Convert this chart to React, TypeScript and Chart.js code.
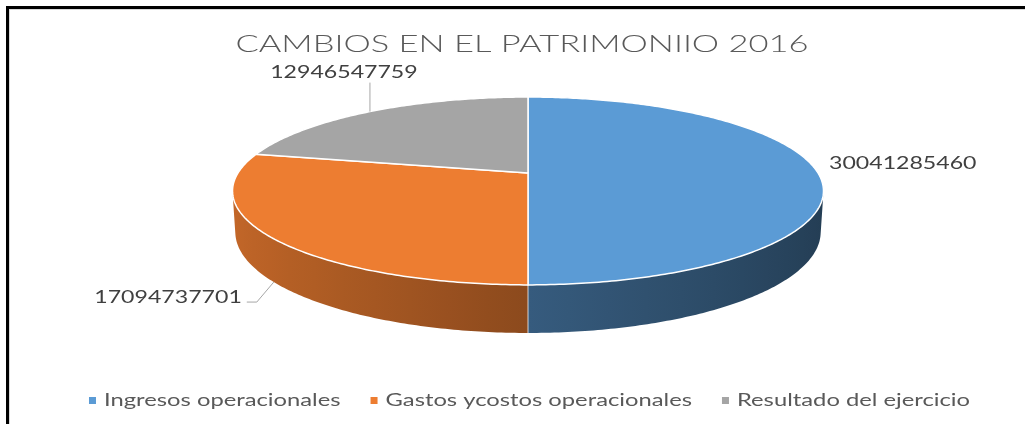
import React, { useEffect, useRef } from "react";
import { Chart, registerables } from "chart.js";

Chart.register(...registerables);

const TITLE = "CAMBIOS EN EL PATRIMONIIO 2016";
const CATEGORIES = ["Ingresos operacionales", "Gastos ycostos operacionales", "Resultado del ejercicio"];
const VALUES = [30041285460, 17094737701, 12946547759];
const COLORS = ["#5B9BD5", "#ED7D31", "#A5A5A5"];

// 3D view parameters (elevation, camera distance, thickness in radius units)
const SIN_E = 0.312;
const COS_E = Math.sqrt(1 - SIN_E * SIN_E);
const DIST = 4.96;
const THICK = 0.1464;

// label styling relative to each slice anchor
const LABEL_LAYOUT = [
  { dx: 11, dy: -3.5, align: "left", leader: [] as number[][] },
  { dx: -32, dy: 21, align: "right", leader: [[-17, 20], [-27, 20]] },
  { dx: -26, dy: -34, align: "center", leader: [[0, -29]] },
];

const FONT = "Lato, 'Open Sans', sans-serif";
const TITLE_SX = 1.5;
const LABEL_SX = 1.36;
const LEGEND_SX = 1.32;

function shade(hex: string, f: number) {
  const h = hex.replace("#", "");
  const r = parseInt(h.slice(0, 2), 16);
  const g = parseInt(h.slice(2, 4), 16);
  const b = parseInt(h.slice(4, 6), 16);
  const c = (v: number) => Math.max(0, Math.min(255, Math.round(v * f)));
  return `rgb(${c(r)},${c(g)},${c(b)})`;
}

function sideFactor(c: number) {
  return c < 0 ? 0.59 - 0.24 * c : 0.59 - 0.2 * c;
}

function drawText(
  ctx: CanvasRenderingContext2D,
  text: string,
  x: number,
  y: number,
  align: string,
  font: string,
  color: string,
  sx: number
) {
  ctx.save();
  ctx.font = font;
  const w = ctx.measureText(text).width * sx;
  let left = x;
  if (align === "center") left = x - w / 2;
  else if (align === "right") left = x - w;
  ctx.translate(left, y);
  ctx.scale(sx, 1);
  ctx.textAlign = "left";
  ctx.textBaseline = "alphabetic";
  ctx.fillStyle = color;
  ctx.fillText(text, 0, 0);
  ctx.restore();
  return w;
}

const pie3d = {
  id: "pie3d",
  beforeDraw(chart: any) {
    const ctx = chart.ctx as CanvasRenderingContext2D;
    const W = chart.width;
    const H = chart.height;
    ctx.save();
    ctx.fillStyle = "#ffffff";
    ctx.fillRect(0, 0, W, H);
    ctx.fillStyle = "#000000";
    ctx.fillRect(6, 6, W - 6, 3);
    ctx.fillRect(6, 6, 3, H - 6);
    ctx.fillStyle = "#d9d9d9";
    ctx.fillRect(9, 9, W - 9, 1);
    ctx.fillRect(9, 9, 1, H - 9);
    ctx.restore();
  },
  beforeDatasetDraw() {
    return false;
  },
  afterDatasetsDraw(chart: any) {
    const ctx = chart.ctx as CanvasRenderingContext2D;
    const meta = chart.getDatasetMeta(0);
    const arcs = meta.data as any[];
    if (!arcs.length) return;
    const colors = chart.data.datasets[0].backgroundColor as string[];
    const labels = chart.data.labels as string[];
    const values = chart.data.datasets[0].data as number[];

    const ox = arcs[0].x;
    const oy = arcs[0].y;
    const R = arcs[0].outerRadius;
    const F = 2 * R * DIST;
    const topBack = (-F * SIN_E) / (DIST + COS_E);
    const botFront = (F * (THICK * COS_E + SIN_E)) / (DIST + THICK * SIN_E - COS_E);
    const cy = oy - (topBack + botFront) / 2;

    const top = (t: number) => {
      const d = DIST - Math.sin(t) * COS_E;
      return [ox + (F * Math.cos(t)) / d, cy + (F * Math.sin(t) * SIN_E) / d];
    };
    const bot = (t: number) => {
      const d = DIST + THICK * SIN_E - Math.sin(t) * COS_E;
      return [ox + (F * Math.cos(t)) / d, cy + (F * (THICK * COS_E + Math.sin(t) * SIN_E)) / d];
    };

    const th0 = Math.asin(1 / (DIST * COS_E));
    const th1 = Math.PI - th0;

    ctx.save();
    // side walls
    arcs.forEach((el, i) => {
      const lo = Math.max(el.startAngle, th0);
      const hi = Math.min(el.endAngle, th1);
      if (hi <= lo) return;
      const n = Math.max(8, Math.ceil((hi - lo) * 80));
      ctx.beginPath();
      for (let k = 0; k <= n; k++) {
        const p = top(lo + ((hi - lo) * k) / n);
        if (k === 0) ctx.moveTo(p[0], p[1]);
        else ctx.lineTo(p[0], p[1]);
      }
      for (let k = n; k >= 0; k--) {
        const p = bot(lo + ((hi - lo) * k) / n);
        ctx.lineTo(p[0], p[1]);
      }
      ctx.closePath();
      const xs = top(lo)[0];
      const xe = top(hi)[0];
      const g = ctx.createLinearGradient(xs, 0, xe, 0);
      for (let k = 0; k <= 12; k++) {
        const t = lo + ((hi - lo) * k) / 12;
        let pos = (top(t)[0] - xs) / (xe - xs);
        pos = Math.max(0, Math.min(1, pos));
        g.addColorStop(pos, shade(colors[i], sideFactor(Math.cos(t))));
      }
      ctx.fillStyle = g;
      ctx.fill();
    });
    // seams on the side
    arcs.forEach((el) => {
      const t = el.startAngle;
      if (t > th0 && t < th1) {
        const a = top(t);
        const b = bot(t);
        ctx.beginPath();
        ctx.moveTo(a[0], a[1]);
        ctx.lineTo(b[0], b[1]);
        ctx.strokeStyle = "rgba(255,255,255,0.75)";
        ctx.lineWidth = 1;
        ctx.stroke();
      }
    });
    // top faces
    arcs.forEach((el, i) => {
      const a = el.startAngle;
      const b = el.endAngle;
      const n = Math.max(8, Math.ceil((b - a) * 80));
      ctx.beginPath();
      ctx.moveTo(ox, cy);
      for (let k = 0; k <= n; k++) {
        const p = top(a + ((b - a) * k) / n);
        ctx.lineTo(p[0], p[1]);
      }
      ctx.closePath();
      ctx.fillStyle = colors[i];
      ctx.fill();
      ctx.strokeStyle = "#ffffff";
      ctx.lineWidth = 1.5;
      ctx.lineJoin = "round";
      ctx.stroke();
    });

    // data labels with leaders
    arcs.forEach((el, i) => {
      const mid = (el.startAngle + el.endAngle) / 2;
      const anchor = Math.sin(mid) > 0.05 ? bot(mid) : top(mid);
      const lay = LABEL_LAYOUT[i];
      if (lay.leader.length) {
        ctx.beginPath();
        ctx.moveTo(anchor[0], anchor[1]);
        lay.leader.forEach((p) => ctx.lineTo(anchor[0] + p[0], anchor[1] + p[1]));
        ctx.strokeStyle = "#a6a6a6";
        ctx.lineWidth = 1;
        ctx.stroke();
      }
      drawText(
        ctx,
        String(values[i]),
        anchor[0] + lay.dx,
        anchor[1] + lay.dy,
        lay.align,
        `17px ${FONT}`,
        "#404040",
        LABEL_SX
      );
    });

    // title
    drawText(ctx, TITLE, 522, 51.5, "center", `300 23px ${FONT}`, "#595959", TITLE_SX);

    // legend
    const legendFont = `18px ${FONT}`;
    ctx.font = legendFont;
    const box = 7;
    const boxGap = 8;
    const itemGap = 30;
    const widths = labels.map((l) => ctx.measureText(l).width * LEGEND_SX);
    const total = widths.reduce((s, w) => s + w + box + boxGap, 0) + itemGap * (labels.length - 1);
    let x = ox + 1.5 - total / 2;
    const base = 406;
    labels.forEach((l, i) => {
      ctx.fillStyle = colors[i];
      ctx.fillRect(x, base - 9, box, box);
      x += box + boxGap;
      drawText(ctx, l, x, base, "left", legendFont, "#595959", LEGEND_SX);
      x += widths[i] + itemGap;
    });
    ctx.restore();
  },
};

export default function App() {
  const ref = useRef<HTMLCanvasElement | null>(null);
  useEffect(() => {
    document.body.style.margin = "0";
    const canvas = ref.current;
    if (!canvas) return;
    const chart = new Chart(canvas, {
      type: "pie",
      data: {
        labels: CATEGORIES,
        datasets: [
          {
            data: VALUES,
            backgroundColor: COLORS,
            borderWidth: 0,
          },
        ],
      },
      options: {
        responsive: false,
        animation: false,
        layout: { padding: { left: 31, right: 0, top: 70, bottom: 64 } },
        plugins: {
          legend: { display: false },
          title: { display: false },
          tooltip: { enabled: false },
        },
      },
      plugins: [pie3d],
    });
    return () => chart.destroy();
  }, []);
  return (
    <div style={{ position: "fixed", left: 0, top: 0, width: 1025, height: 424 }}>
      <canvas ref={ref} width={1025} height={424} style={{ display: "block" }} />
    </div>
  );
}
